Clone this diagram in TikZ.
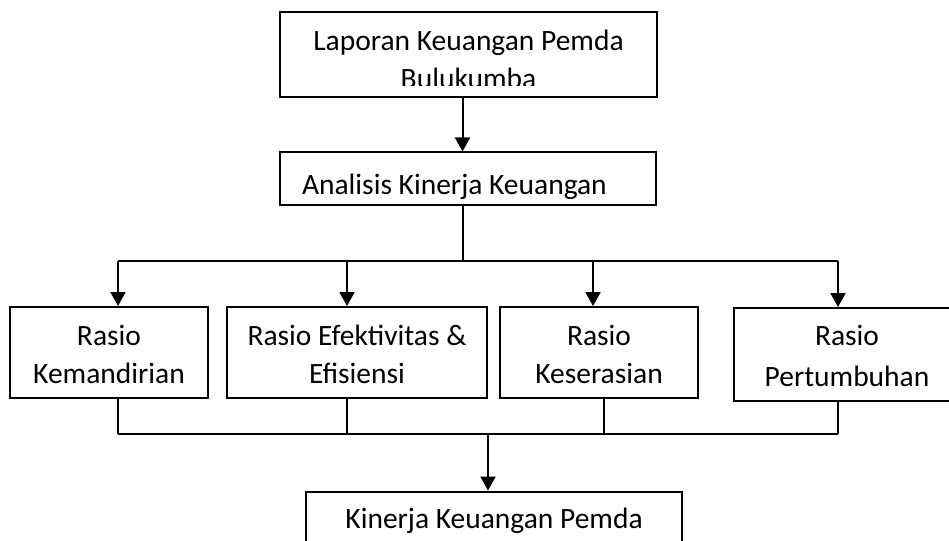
\documentclass[tikz,border=0pt]{standalone}
\usepackage{fontspec}
\setmainfont{Carlito}
\usepackage{tikz}
\usetikzlibrary{arrows.meta}
\usetikzlibrary{positioning}
\tikzset{
  >={Triangle[width=15pt,length=14pt]},
  box/.style={draw, rectangle, align=center, inner sep=0pt,
    font=\fontsize{29.5}{38}\selectfont},
  boxtext/.style={align=center, inner sep=0pt,
    font=\fontsize{29.5}{38}\selectfont},
  twoline/.style={text height=61pt, text depth=0pt},
}
\begin{document}
\begin{tikzpicture}[x=1pt, y=-1pt, line width=2pt]
    \useasboundingbox (0,0) rectangle (949,540);
    \clip (0,0) rectangle (949,540);
    \node [box, minimum width=377pt, minimum height=85pt] (lap) at (468.5,54.5) {};
    \begin{scope}
      \clip (lap.north west) rectangle (657,86);
      \node [boxtext, text height=60pt, text depth=0pt] (laptext) at (468.5,58.5) {Laporan Keuangan Pemda\\Bulukumba};
    \end{scope}
    \node [box, minimum width=376pt, minimum height=52.5pt, text width=332pt, align=flush left,
      text height=34pt, text depth=3.5pt] (ana) at (468,178.75) {Analisis Kinerja Keuangan};
    \node [box, twoline, minimum width=198pt, minimum height=91pt] (r1) at (109,352.5) {Rasio\\Kemandirian};
    \node [box, twoline, minimum width=260pt, minimum height=91pt] (r2) at (357,352.5) {Rasio Efektivitas \&\\Efisiensi};
    \node [box, twoline, minimum width=198pt, minimum height=91pt] (r3) at (599,352.5) {Rasio\\Keserasian};
    \node [box, text height=63pt, text depth=0pt, minimum width=226pt, minimum height=93pt] (r4) at (847,354.5) {Rasio\\[3pt]Pertumbuhan};
    \node [box, minimum width=376pt, minimum height=58.4pt] (fin) at (494,520.7) {Kinerja Keuangan Pemda};
    \coordinate (split) at (462.5,260.5);
    \coordinate (join) at (488,433.5);
    \draw [->] (lap.south -| split) -- (ana.north -| split);
    \draw (ana.south -| split) -- (split);
    \draw ([xshift=9pt]r1.north |- split) -- ([xshift=-9pt]r4.north |- split);
    \foreach \n/\dx in {r1/9, r2/-10, r3/-6, r4/-9}
      \draw [->] ([xshift=\dx pt]\n.north |- split) -- ([xshift=\dx pt]\n.north);
    \foreach \n/\dx in {r1/9, r2/-10, r3/5, r4/-9}
      \draw ([xshift=\dx pt]\n.south) -- ([xshift=\dx pt]\n.south |- join);
    \draw ([xshift=9pt]r1.south |- join) -- ([xshift=-9pt]r4.south |- join);
    \draw [->] (join) -- (fin.north -| join);
\end{tikzpicture}
\end{document}
